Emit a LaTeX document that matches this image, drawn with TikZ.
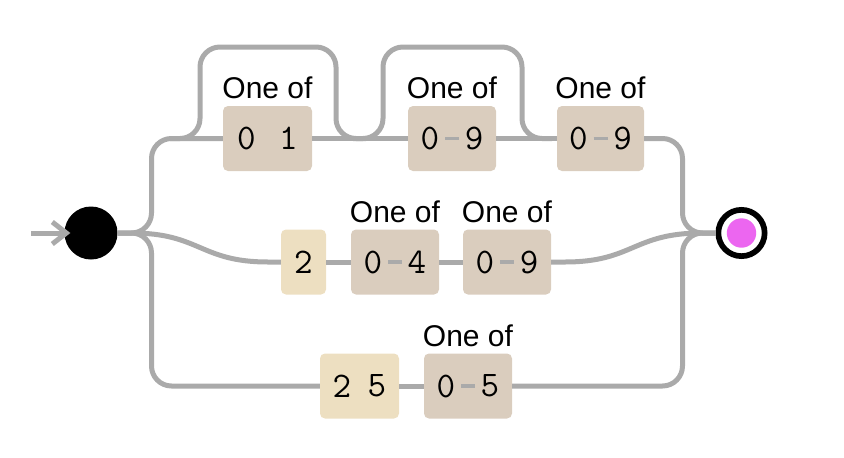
\documentclass[tikz,border=0pt]{standalone}
\usepackage{fontspec}
\setmainfont{Liberation Sans}
\usetikzlibrary{arrows.meta}
\definecolor{railgray}{RGB}{170,170,170}
\definecolor{clsfill}{RGB}{218,205,190}
\definecolor{litfill}{RGB}{237,223,193}
\definecolor{endfill}{RGB}{236,102,240}
\tikzset{
  rail/.style={draw=railgray, line width=5pt},
  clsbox/.style={fill=clsfill, rounded corners=5pt, minimum height=65pt, inner sep=0pt},
  litbox/.style={fill=litfill, rounded corners=5pt, minimum height=65pt, inner sep=0pt},
  dig/.style={font=\fontsize{36}{42}\selectfont\ttfamily, inner sep=0pt},
  lbl/.style={font=\fontsize{30}{36}\selectfont, inner sep=0pt, anchor=base},
  rng/.style={draw=railgray, line width=3.5pt},
}
\begin{document}
\begin{tikzpicture}[x=1pt,y=-1pt]
\useasboundingbox (0,0) rectangle (844,458);
% boxes
\node[clsbox, minimum width=89pt] (c01) at (267.5,138.5) {};
\node[clsbox, minimum width=88pt] (c09a) at (452,138.5) {};
\node[clsbox, minimum width=87pt] (c09b) at (600.5,138.5) {};
\node[litbox, minimum width=45pt] (l2) at (303.5,262) {};
\node[clsbox, minimum width=88pt] (c04) at (395,262) {};
\node[clsbox, minimum width=88pt] (c09c) at (507,262) {};
\node[litbox, minimum width=79pt] (l25) at (359.5,386) {};
\node[clsbox, minimum width=88pt] (c05) at (468,386) {};
% labels
\node[lbl] (t01) at ([yshift=7pt]c01.north) {One of};
\node[lbl] (t09a) at ([yshift=7pt]c09a.north) {One of};
\node[lbl] (t09b) at ([yshift=7pt]c09b.north) {One of};
\node[lbl] (t04) at ([yshift=7pt]c04.north) {One of};
\node[lbl] (t09c) at ([yshift=7pt]c09c.north) {One of};
\node[lbl] (t05) at ([yshift=7pt]c05.north) {One of};
% digits
\node[dig] (d01a) at ([xshift=-21pt]c01.center) {0};
\node[dig] (d01b) at ([xshift=21pt]c01.center) {1};
\node[dig] (d09aa) at ([xshift=-22pt]c09a.center) {0};
\node[dig] (d09ab) at ([xshift=22pt]c09a.center) {9};
\node[dig] (d09ba) at ([xshift=-22pt]c09b.center) {0};
\node[dig] (d09bb) at ([xshift=22pt]c09b.center) {9};
\node[dig] (d2) at (l2.center) {2};
\node[dig] (d04a) at ([xshift=-22pt]c04.center) {0};
\node[dig] (d04b) at ([xshift=22pt]c04.center) {4};
\node[dig] (d09ca) at ([xshift=-22pt]c09c.center) {0};
\node[dig] (d09cb) at ([xshift=22pt]c09c.center) {9};
\node[dig] (d25a) at ([xshift=-17.5pt]l25.center) {2};
\node[dig] (d25b) at ([xshift=17.5pt]l25.center) {5};
\node[dig] (d05a) at ([xshift=-22pt]c05.center) {0};
\node[dig] (d05b) at ([xshift=22pt]c05.center) {5};
% range dashes
\foreach \b in {c09a,c09b,c04,c09c,c05}
  \draw[rng] ([xshift=-7pt]\b.center) -- ([xshift=7pt]\b.center);
% anchors
\node[circle, fill=black, minimum size=53pt, inner sep=0pt] (start) at (91,233) {};
\node[circle, draw=black, line width=5.7pt, fill=white, minimum size=46.3pt, inner sep=0pt] (end) at (741.5,233) {};
\node[circle, fill=endfill, minimum size=29.4pt, inner sep=0pt] (endin) at (end.center) {};
\coordinate (in) at (31,233);
% entry
\draw[rail] (in) -- (start.west);
\draw[rail] ([xshift=-12pt,yshift=11pt]start.west) -- ([xshift=2pt]start.west) -- ([xshift=-12pt,yshift=-11pt]start.west);
% left splits
\draw[rail, rounded corners=20pt] (start.east) -| (151.5,138.5) -- (c01.west);
\draw[rail, rounded corners=20pt] (start.east) -| (151.5,386) -- (l25.west);
\draw[rail] (start.east) -- (131.5,233) .. controls (200,233) and (200,262) .. (268,262) -- (l2.west);
% top row
\draw[rail] (c01.east) -- (c09a.west);
\draw[rail] (c09a.east) -- (c09b.west);
\draw[rail, rounded corners=20pt] (c09b.east) -| (682.5,233) -- (end.west);
\draw[rail, rounded corners=20pt] (170,138.5) -- (200,138.5) -- (200,47) -- (336,47) -- (336,138.5) -- (366,138.5);
\draw[rail, rounded corners=20pt] (353,138.5) -- (383,138.5) -- (383,47) -- (522,47) -- (522,138.5) -- (552,138.5);
% middle row
\draw[rail] (l2.east) -- (c04.west);
\draw[rail] (c04.east) -- (c09c.west);
\draw[rail] (c09c.east) -- (565,262) .. controls (633,262) and (633,233) .. (702,233) -- (end.west);
% bottom row
\draw[rail] (l25.east) -- (c05.west);
\draw[rail, rounded corners=20pt] (c05.east) -| (682.5,233) -- (end.west);
\end{tikzpicture}
\end{document}
